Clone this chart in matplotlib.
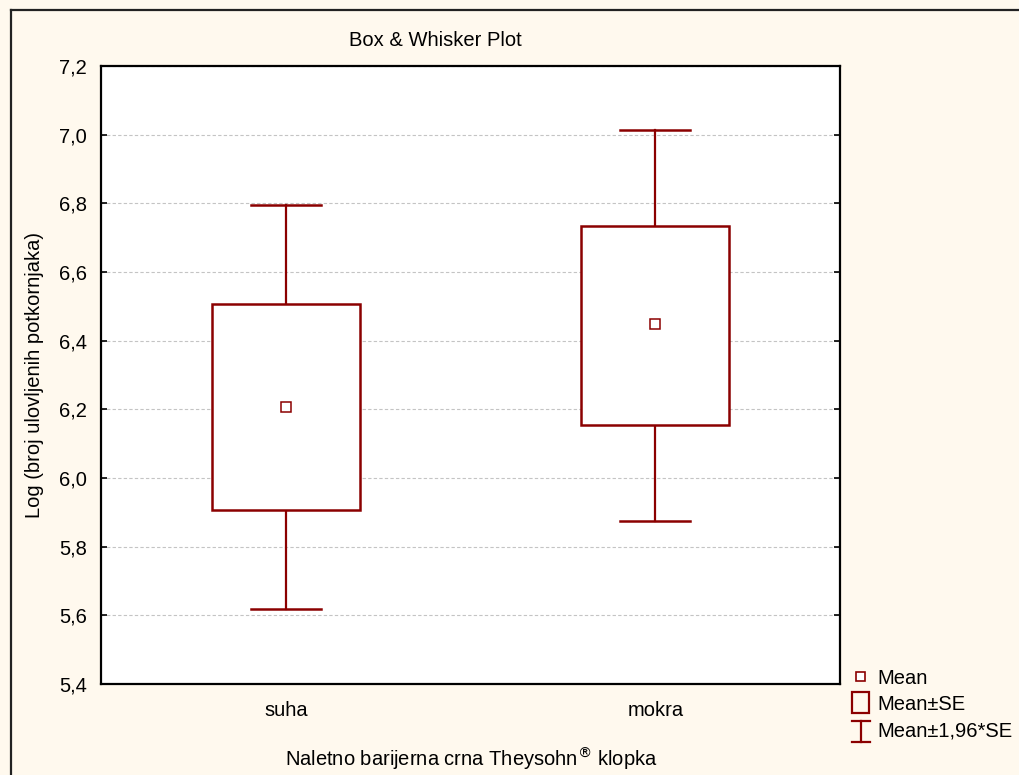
import matplotlib
matplotlib.use("Agg")
import matplotlib.pyplot as plt
from matplotlib.patches import Rectangle
from matplotlib.lines import Line2D

# ---- data ----
categories = ["suha", "mokra"]
means = [6.206, 6.449]
se_low = [5.906, 6.154]
se_high = [6.507, 6.734]
ci_low = [5.618, 5.875]
ci_high = [6.795, 7.014]
yticks = [5.4, 5.6, 5.8, 6.0, 6.2, 6.4, 6.6, 6.8, 7.0, 7.2]
ytick_labels = ["5,4", "5,6", "5,8", "6,0", "6,2", "6,4", "6,6", "6,8", "7,0", "7,2"]
legend_labels = ["Mean", "Mean\u00b1SE", "Mean\u00b11,96*SE"]

plt.rcParams['font.family'] = ['Liberation Sans', 'DejaVu Sans']
RED = '#8b0000'
BG = '#fff9ee'
FS = 14.5

fig = plt.figure(figsize=(10.19, 7.75), dpi=100, facecolor=BG)
W, H = 1019, 775

def fx(px):
    return px / W

def fy(py):
    return 1 - py / H

ax = fig.add_axes([fx(101), fy(684), (840 - 101) / W, (684 - 66) / H])
ax.set_facecolor('white')

box_w = 0.40
cap_w = 0.19
for i, c in enumerate(categories):
    x = i + 1
    # whiskers
    ax.plot([x, x], [se_high[i], ci_high[i]], color=RED, lw=1.6, zorder=3)
    ax.plot([x, x], [ci_low[i], se_low[i]], color=RED, lw=1.6, zorder=3)
    ax.plot([x - cap_w / 2, x + cap_w / 2], [ci_high[i], ci_high[i]], color=RED, lw=1.8, zorder=3)
    ax.plot([x - cap_w / 2, x + cap_w / 2], [ci_low[i], ci_low[i]], color=RED, lw=1.8, zorder=3)
    # box
    ax.add_patch(Rectangle((x - box_w / 2, se_low[i]), box_w, se_high[i] - se_low[i],
                           facecolor='white', edgecolor=RED, lw=1.8, zorder=4))
    # mean
    ax.plot([x], [means[i]], marker='s', ms=6.5, mfc='white', mec=RED, mew=1.1,
            linestyle='none', zorder=5)

ax.set_xlim(0.5, 2.5)
ax.set_ylim(5.4, 7.2)
ax.set_xticks([1, 2])
ax.set_xticklabels(categories, fontsize=FS)
ax.set_yticks(yticks)
ax.set_yticklabels(ytick_labels, fontsize=FS)
ax.tick_params(axis='y', direction='in', length=4, width=1.2, right=True, pad=10)
ax.tick_params(axis='x', length=0, pad=12)
ax.grid(axis='y', color='#c4c4c4', linestyle=(0, (3, 2)), lw=0.8, zorder=0)
ax.set_axisbelow(True)
for s in ax.spines.values():
    s.set_linewidth(1.6)
    s.set_color('black')

# labels
fig.text(fx(435), fy(40), "Box & Whisker Plot", ha='center', va='center', fontsize=FS)
fig.text(fx(35), fy(375), "Log (broj ulovljenih potkornjaka)", rotation=90,
         ha='center', va='center', fontsize=FS)
fig.text(fx(471), fy(759), "Naletno barijerna crna Theysohn$^{\u00ae}$ klopka",
         ha='center', va='center', fontsize=FS)

# figure frame
fig.add_artist(Line2D([fx(11), fx(11)], [fy(10), 0], color='#222222', lw=1.6, transform=fig.transFigure))
fig.add_artist(Line2D([fx(11), 1], [fy(10), fy(10)], color='#222222', lw=1.6, transform=fig.transFigure))

# legend
fig.add_artist(Rectangle((fx(856), fy(681)), 9 / W, 9 / H, transform=fig.transFigure,
                         facecolor='white', edgecolor=RED, lw=1.2))
fig.add_artist(Rectangle((fx(852), fy(713)), 17 / W, 21 / H, transform=fig.transFigure,
                         facecolor='none', edgecolor=RED, lw=1.6))
fig.add_artist(Line2D([fx(861), fx(861)], [fy(721), fy(742)], color=RED, lw=1.6, transform=fig.transFigure))
fig.add_artist(Line2D([fx(852), fx(870)], [fy(721), fy(721)], color=RED, lw=1.6, transform=fig.transFigure))
fig.add_artist(Line2D([fx(852), fx(870)], [fy(742), fy(742)], color=RED, lw=1.6, transform=fig.transFigure))
for lab, yy in zip(legend_labels, [678, 704, 731]):
    fig.text(fx(877), fy(yy), lab, ha='left', va='center', fontsize=FS)

fig.savefig('out.png', dpi=100, facecolor=BG)
